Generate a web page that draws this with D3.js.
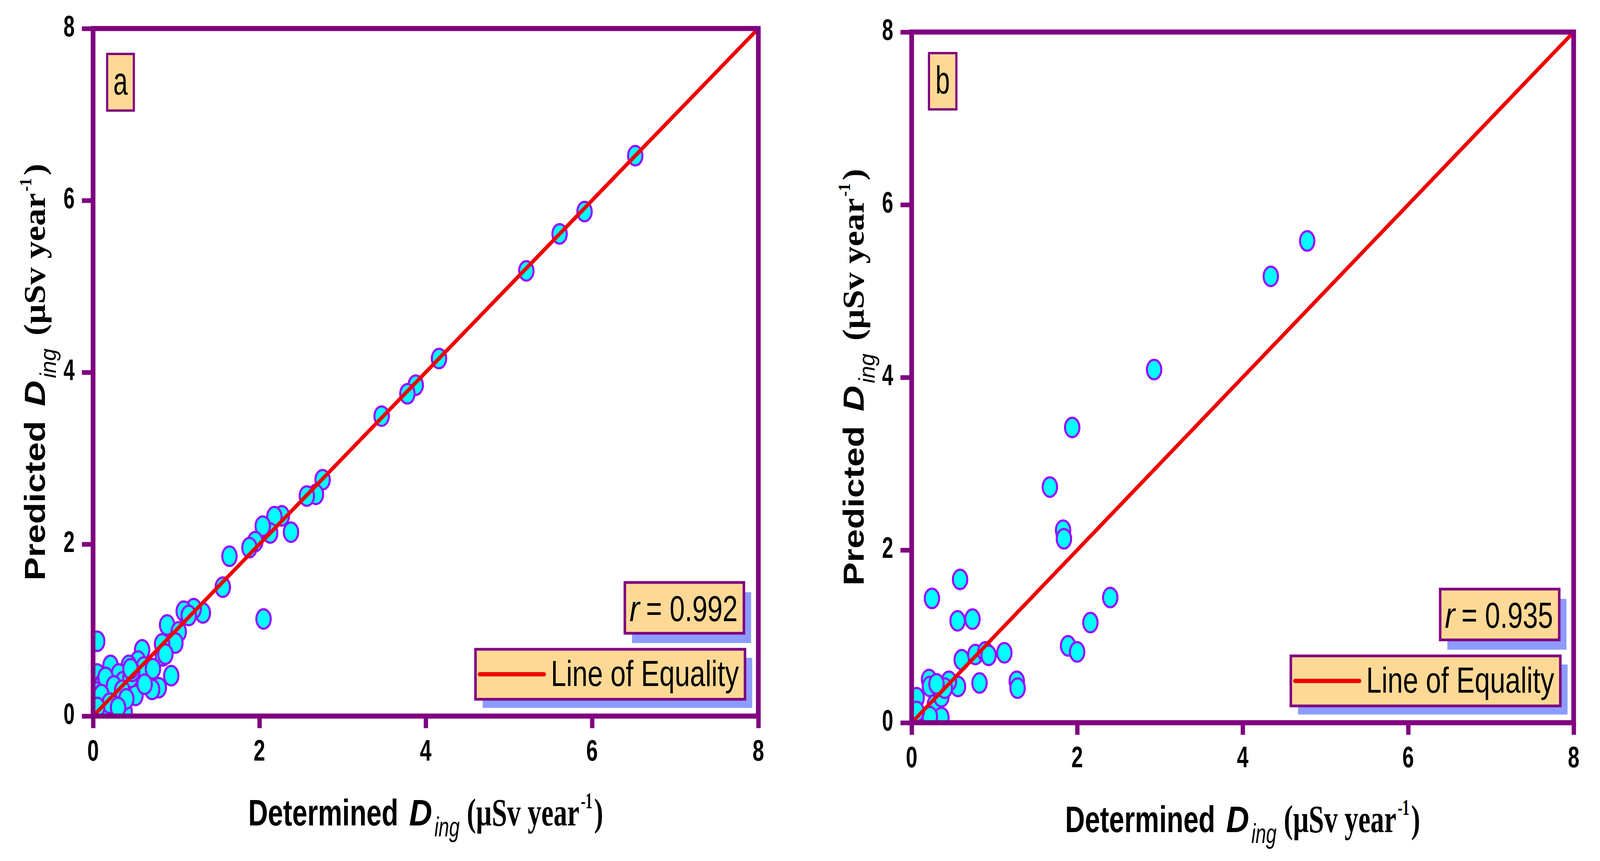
<!DOCTYPE html>
<html>
<head>
<meta charset="utf-8">
<script src="https://cdn.jsdelivr.net/npm/d3@7"></script>
<style>
  html, body { margin: 0; padding: 0; background: #fff; overflow: hidden; width: 100%; height: 100%; }
  svg { display: block; }
  text { fill: #000; }
</style>
</head>
<body>
<script>
var width = 4435;
var height = 2204;

// ---- data ----
var ticks = [0, 2, 4, 6, 8];

// panel a: determined vs predicted
var detA = [6.52, 5.91, 5.61, 5.21, 4.16, 3.88, 3.78, 3.47, 2.76, 2.68, 2.57, 2.38, 2.27, 2.18, 2.13, 2.04,
  1.95, 1.88, 1.64, 1.56, 2.05, 1.32, 1.21, 1.09, 1.15, 0.89, 1.03, 0.99, 0.83, 0.84, 0.94, 0.79,
  0.59, 0.54, 0.43, 0.66, 0.53, 0.21, 0.31, 0.05, 0.11, 0.43, 0.30, 0.08, 0.27, 0.38, 0.25, 0.08,
  0.03, 0.51, 0.71, 0.61, 0.05, 0.72, 0.17, 0.20, 0.36, 0.45, 0.62, 0.12, 0.33, 0.87, 0.15, 0.47,
  0.15, 0.25, 0.10, 0.35, 0.20, 0.40, 0.05, 0.30, 0.45];
var predA = [6.52, 5.87, 5.61, 5.18, 4.16, 3.85, 3.75, 3.49, 2.75, 2.58, 2.56, 2.14, 2.33, 2.32, 2.13, 2.21,
  2.03, 1.96, 1.86, 1.50, 1.13, 1.20, 1.25, 1.22, 1.17, 1.06, 0.98, 0.85, 0.84, 0.70, 0.47, 0.33,
  0.77, 0.64, 0.59, 0.47, 0.44, 0.59, 0.49, 0.49, 0.37, 0.33, 0.26, 0.17, 0.21, 0.05, 0.03, 0.03,
  0.28, 0.24, 0.31, 0.57, 0.87, 0.55, 0.12, 0.30, 0.40, 0.45, 0.37, 0.05, 0.15, 0.72, 0.42, 0.52,
  0.45, 0.35, 0.25, 0.30, 0.15, 0.20, 0.10, 0.10, 0.55];

// panel b
var detB = [4.78, 4.34, 2.93, 1.94, 1.67, 1.83, 1.84, 2.40, 2.16, 1.89, 2.00, 0.585, 0.245, 0.555, 0.735,
  0.605, 0.77, 0.89, 0.93, 1.12, 0.82, 1.27, 1.28, 0.56, 0.45, 0.21, 0.22, 0.06, 0.28, 0.36, 0.36,
  0.10, 0.22, 0.06, 0.40, 0.30];
var predB = [5.58, 5.17, 4.09, 3.42, 2.73, 2.23, 2.13, 1.45, 1.16, 0.89, 0.82, 1.66, 1.44, 1.18, 1.20,
  0.73, 0.79, 0.82, 0.78, 0.81, 0.46, 0.48, 0.40, 0.42, 0.48, 0.50, 0.42, 0.29, 0.21, 0.30, 0.06,
  0.06, 0.07, 0.13, 0.40, 0.45];

var rValues = ["0.992", "0.935"];
var panelLabels = ["a", "b"];
var legendLabel = "Line of Equality";

// ---- layout ----
var panels = [
  { det: detA, pred: predA, left: 258, right: 2102, top: 73, bottom: 1833, lab: [39, 65, 74, 145] },
  { det: detB, pred: predB, left: 2527, right: 4362, top: 82, bottom: 1850, lab: [48, 54, 76, 144] }
];

var purple = "#800080";
var markStroke = "#9900ff";
var boxFill = "#fdd995";
var shadow = "#8c9bff";
var red = "#ee0000";
var sans = "'Liberation Sans', Arial, sans-serif";
var serif = "'Liberation Serif', 'Times New Roman', serif";

// stretch the drawing over whatever the window really is
var svg = d3.select("body").append("svg")
  .attr("width", "100%").attr("height", "100%")
  .attr("viewBox", "0 0 " + width + " " + height)
  .attr("preserveAspectRatio", "none")
  .style("width", "100vw").style("height", "100vh");

// text squeezed (or widened) to a measured width with a plain scale transform
function piece(g, str, x, y, len, size, family, weight, style, anchor) {
  var t = g.append("text")
    .style("font-family", family).style("font-size", size + "px")
    .style("font-weight", weight).style("font-style", style)
    .text(str);
  var natural = t.node().getComputedTextLength() || len;
  var x0 = anchor === "middle" ? x - len / 2 : anchor === "end" ? x - len : x;
  t.attr("transform", "translate(" + x0 + "," + y + ") scale(" + (len / natural) + ",1)");
  return t;
}

panels.forEach(function (p, i) {
  var x = d3.scaleLinear().domain([0, 8]).range([p.left, p.right]);
  var y = d3.scaleLinear().domain([0, 8]).range([p.bottom, p.top]);
  var g = svg.append("g");

  var clipId = "clip" + i;
  svg.append("clipPath").attr("id", clipId).append("rect")
    .attr("x", p.left).attr("y", p.top)
    .attr("width", p.right - p.left).attr("height", p.bottom - p.top);

  // points
  var pts = d3.range(p.det.length).map(function (k) { return [p.det[k], p.pred[k]]; });
  g.append("g").attr("clip-path", "url(#" + clipId + ")")
    .selectAll("ellipse").data(pts).enter().append("ellipse")
    .attr("cx", function (d) { return x(d[0]); })
    .attr("cy", function (d) { return y(d[1]); })
    .attr("rx", 20).attr("ry", 25)
    .style("fill", "#00ffff")
    .style("stroke", markStroke)
    .style("stroke-width", 5.5);

  // line of equality
  g.append("line").attr("clip-path", "url(#" + clipId + ")")
    .attr("x1", x(0)).attr("y1", y(0)).attr("x2", x(8)).attr("y2", y(8))
    .style("stroke", red).style("stroke-width", 10);

  // frame
  g.append("rect")
    .attr("x", p.left).attr("y", p.top)
    .attr("width", p.right - p.left).attr("height", p.bottom - p.top)
    .style("fill", "none").style("stroke", purple).style("stroke-width", 13);

  // ticks
  var xa = g.append("g").attr("transform", "translate(0," + p.bottom + ")")
    .call(d3.axisBottom(x).tickValues(ticks).tickSize(31).tickSizeOuter(0).tickFormat(""));
  var ya = g.append("g").attr("transform", "translate(" + p.left + ",0)")
    .call(d3.axisLeft(y).tickValues(ticks).tickSize(31).tickSizeOuter(0).tickFormat(""));
  [xa, ya].forEach(function (a) {
    a.select(".domain").remove();
    a.selectAll(".tick line").style("stroke", purple).style("stroke-width", 12);
  });

  // tick labels
  ticks.forEach(function (t) {
    piece(g, String(t), x(t), p.bottom + 114, 32, 76, sans, "bold", "normal", "middle");
    piece(g, String(t), p.left - 51, y(t) + 20, 31, 76, sans, "bold", "normal", "end");
  });

  // x title
  var cx = (p.left + p.right) / 2;
  var xt = g.append("g").attr("transform", "translate(" + (cx - 492) + "," + (p.bottom + 280) + ")");
  piece(xt, "Determined", 0, 0, 416, 95, sans, "bold", "normal");
  piece(xt, "D", 446, 0, 64, 95, sans, "bold", "italic");
  piece(xt, "ing", 516, 28, 70, 70, sans, "normal", "italic");
  piece(xt, "(\u00b5Sv year", 606, 0, 312, 100, serif, "bold", "normal");
  piece(xt, "-1", 922, -44, 32, 56, serif, "bold", "normal");
  piece(xt, ")", 959, 0, 25, 100, serif, "bold", "normal");

  // y title
  var cy = (p.top + p.bottom) / 2;
  var yt = g.append("g").attr("transform", "translate(" + (p.left - 133) + "," + (cy + 533) + ") rotate(-90)");
  piece(yt, "Predicted", 0, 0, 409, 80, sans, "bold", "normal");
  piece(yt, "D", 446, 0, 66, 80, sans, "bold", "italic");
  piece(yt, "ing", 518, 30, 76, 62, sans, "normal", "italic");
  piece(yt, "(\u00b5Sv year", 627, 0, 365, 84, serif, "bold", "normal");
  piece(yt, "-1", 996, -38, 34, 48, serif, "bold", "normal");
  piece(yt, ")", 1037, 0, 30, 84, serif, "bold", "normal");

  // panel letter
  var lb = p.lab;
  g.append("rect")
    .attr("x", p.left + lb[0]).attr("y", p.top + lb[1])
    .attr("width", lb[2]).attr("height", lb[3])
    .style("fill", boxFill).style("stroke", purple).style("stroke-width", 6);
  piece(g, panelLabels[i], p.left + lb[0] + lb[2] / 2, p.top + lb[1] + 104, 40, 100, sans, "normal", "normal", "middle");

  // legend box
  var legW = 747, legH = 128;
  var legX = p.right - 37 - legW, legY = p.bottom - 43 - legH;
  g.append("rect").attr("x", legX + 20).attr("y", legY + 22)
    .attr("width", legW).attr("height", legH).style("fill", shadow);
  g.append("rect").attr("x", legX).attr("y", legY)
    .attr("width", legW).attr("height", legH)
    .style("fill", boxFill).style("stroke", purple).style("stroke-width", 7);
  g.append("line")
    .attr("x1", legX + 12).attr("x2", legX + 190)
    .attr("y1", legY + 64).attr("y2", legY + 64)
    .style("stroke", red).style("stroke-width", 11).style("stroke-linecap", "round");
  piece(g, legendLabel, legX + 209, legY + 94, 521, 92, sans, "normal", "normal");

  // r box
  var rW = 330, rH = 130;
  var rX = p.right - 40 - rW, rY = legY - 41 - rH;
  g.append("rect").attr("x", rX + 20).attr("y", rY + 25)
    .attr("width", rW).attr("height", rH).style("fill", shadow);
  g.append("rect").attr("x", rX).attr("y", rY)
    .attr("width", rW).attr("height", rH)
    .style("fill", boxFill).style("stroke", purple).style("stroke-width", 7);
  piece(g, "r", rX + 13, rY + 99, 28, 92, sans, "normal", "italic");
  piece(g, "= " + rValues[i], rX + 59, rY + 99, 254, 92, sans, "normal", "normal");
});
</script>
</body>
</html>
